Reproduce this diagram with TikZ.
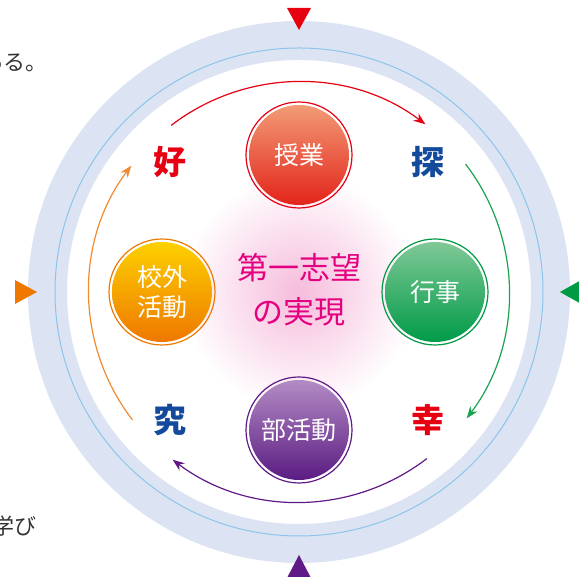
\documentclass[tikz,border=0pt]{standalone}
\usepackage{fontspec}
\setmainfont{Noto Sans CJK JP}
\usetikzlibrary{arrows.meta}
\definecolor{bandc}{HTML}{DCE3F2}
\definecolor{linec}{HTML}{8CC6EC}
\definecolor{myred}{HTML}{E60012}
\definecolor{mygreen}{HTML}{009944}
\definecolor{arcgreen}{HTML}{1BA24F}
\definecolor{mypurple}{HTML}{601986}
\definecolor{myorange}{HTML}{EE7800}
\definecolor{arcorange}{HTML}{F08A30}
\definecolor{myblue}{HTML}{144A9C}
\definecolor{mymagenta}{HTML}{E4007F}
\definecolor{glow}{HTML}{F6BCDC}
\definecolor{graytxt}{HTML}{333333}
\definecolor{redtop}{HTML}{F29B76}
\definecolor{redbot}{HTML}{E3241A}
\definecolor{greentop}{HTML}{80C896}
\definecolor{greenbot}{HTML}{009B48}
\definecolor{purptop}{HTML}{B38BC4}
\definecolor{purpbot}{HTML}{5B1C82}
\definecolor{orgtop}{HTML}{FDD000}
\definecolor{orgbot}{HTML}{EE7800}
\begin{document}
\begin{tikzpicture}[x=1pt,y=1pt,
  ballnode/.style={circle, minimum size=100pt, inner sep=0pt, text=white, font=\fontsize{25}{30}\selectfont, align=center},
  kanji/.style={inner sep=0pt, font=\fontsize{33}{35}\selectfont\bfseries},
  cyc/.style={line width=1.2pt, -{Stealth[length=12pt,width=9pt]}},
  ringline/.style={line width=1.2pt},
  sidetext/.style={anchor=east, inner sep=0pt, text=graytxt, font=\fontsize{22}{26}\selectfont}
]
\useasboundingbox (0,0) rectangle (579,577);
\clip (0,0) rectangle (579,577);
\coordinate (C) at (299,285);
% outer band and thin line
\fill[bandc, even odd rule] (C) circle (271pt) (C) circle (232pt);
\draw[linec, line width=1pt] (C) circle (244pt);
% triangles
\fill[myred] (287,569) -- (311,569) -- (299,547) -- cycle;
\fill[mypurple] (287,-1) -- (311,-1) -- (299,22) -- cycle;
\fill[myorange] (15,273) -- (15,297) -- (37,285) -- cycle;
\fill[mygreen] (583,272) -- (583,298) -- (560,285) -- cycle;
% glow
\shade[inner color=glow, outer color=white] (C) circle (118pt);
% centre text
\node[text=mymagenta, font=\fontsize{31}{44}\selectfont, align=center, inner sep=0pt] (goal) at (299,287) {第一志望\\の実現};
% balls
\node[ballnode, top color=redtop, bottom color=redbot] (jugyo) at (299,422) {授業};
\draw[ringline, myred] (jugyo.center) circle (53pt);
\node[ballnode, top color=greentop, bottom color=greenbot] (gyoji) at (435,285) {行事};
\draw[ringline, mygreen] (gyoji.center) circle (53pt);
\node[ballnode, top color=purptop, bottom color=purpbot] (bukatsu) at (299,147) {部活動};
\draw[ringline, mypurple] (bukatsu.center) circle (53pt);
\node[ballnode, top color=orgtop, bottom color=orgbot] (kogai) at (162,285) {校外\\活動};
\draw[ringline, myorange] (kogai.center) circle (53pt);
% kanji labels
\node[kanji, text=myred] (ko) at (170,415) {好};
\node[kanji, text=myblue] (tan) at (428,415) {探};
\node[kanji, text=myred] (sachi) at (428,157) {幸};
\node[kanji, text=myblue] (kyu) at (170,157) {究};
% cycle arcs
\coordinate (a1) at ([shift={(127.5:210pt)}]C);
\coordinate (a2) at ([shift={(37.5:210pt)}]C);
\coordinate (a3) at ([shift={(-52.5:210pt)}]C);
\coordinate (a4) at ([shift={(217.5:210pt)}]C);
\draw[cyc, myred] (a1) arc[start angle=127.5, end angle=53, radius=210pt];
\draw[cyc, arcgreen] (a2) arc[start angle=37.5, end angle=-37, radius=210pt];
\draw[cyc, mypurple] (a3) arc[start angle=-52.5, end angle=-127, radius=210pt];
\draw[cyc, arcorange] (a4) arc[start angle=217.5, end angle=143, radius=210pt];
% side texts (cut at the left edge, as in the reference)
\node[sidetext] (t1) at (48,515) {ある。};
\node[sidetext] (t2) at (37,51) {学び};
\end{tikzpicture}
\end{document}
